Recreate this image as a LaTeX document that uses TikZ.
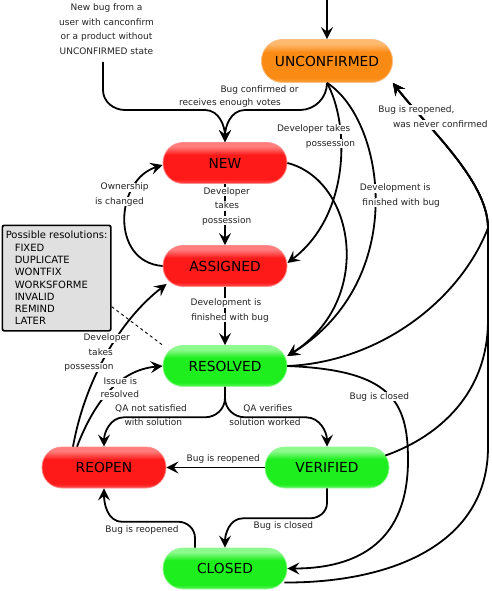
\documentclass[tikz,border=0pt]{standalone}
\usepackage{fontspec}
\setmainfont{DejaVu Sans}
\usetikzlibrary{arrows.meta}

\definecolor{rMain}{RGB}{255,26,26}
\definecolor{rHi}{RGB}{255,125,125}
\definecolor{rRim}{RGB}{255,85,85}
\definecolor{rBd}{RGB}{255,140,140}
\definecolor{oMain}{RGB}{249,138,20}
\definecolor{oHi}{RGB}{253,185,110}
\definecolor{oRim}{RGB}{251,165,70}
\definecolor{oBd}{RGB}{252,190,130}
\definecolor{gMain}{RGB}{30,238,30}
\definecolor{gHi}{RGB}{140,250,140}
\definecolor{gRim}{RGB}{95,245,95}
\definecolor{gBd}{RGB}{150,248,150}
\definecolor{boxgray}{RGB}{224,224,224}
\definecolor{lbltext}{RGB}{35,35,35}

\pgfdeclareverticalshading{glossR}{100bp}{color(0bp)=(rRim); color(25bp)=(rRim); color(30bp)=(rMain); color(60bp)=(rMain); color(70bp)=(rHi); color(75bp)=(rHi); color(100bp)=(rHi)}
\pgfdeclareverticalshading{glossO}{100bp}{color(0bp)=(oRim); color(25bp)=(oRim); color(30bp)=(oMain); color(60bp)=(oMain); color(70bp)=(oHi); color(75bp)=(oHi); color(100bp)=(oHi)}
\pgfdeclareverticalshading{glossG}{100bp}{color(0bp)=(gRim); color(25bp)=(gRim); color(30bp)=(gMain); color(60bp)=(gMain); color(70bp)=(gHi); color(75bp)=(gHi); color(100bp)=(gHi)}

\tikzset{
  state/.style={rectangle, rounded corners=20pt, minimum width=124pt, minimum height=41pt,
    inner sep=0pt, font=\fontsize{13.8}{15}\selectfont, text=black, line width=0.8pt},
  rstate/.style={state, shading=glossR, draw=rBd},
  gstate/.style={state, shading=glossG, draw=gBd},
  ostate/.style={state, shading=glossO, draw=oBd, minimum width=131pt, minimum height=43pt, rounded corners=21pt},
  arr/.style={-{Stealth[length=12pt,width=12pt,inset=4.5pt]}, line width=1.8pt},
  lbl/.style={font=\fontsize{9}{11}\selectfont, fill=white, inner sep=0.3pt,
    text height=6.6pt, text depth=1.9pt, text=lbltext},
  resbox/.style={draw, line width=1.7pt, fill=boxgray, rounded corners=2pt, inner sep=3pt,
    minimum width=108.5pt, minimum height=105.5pt, align=left,
    font=\fontsize{10}{12.3}\selectfont, text=black},
  dotline/.style={line width=0.9pt, dash pattern=on 3pt off 3pt}
}

\begin{document}
\begin{tikzpicture}[x=1pt,y=1pt]
\useasboundingbox (0,0) rectangle (491,-591);

% states
\node[ostate] (unc) at (327,-61) {UNCONFIRMED};
\node[rstate] (new) at (225,-163) {NEW};
\node[rstate] (asg) at (225,-266) {ASSIGNED};
\node[gstate] (res) at (225,-366) {RESOLVED};
\node[rstate] (reo) at (104,-467.5) {REOPEN};
\node[gstate] (ver) at (327,-467.5) {VERIFIED};
\node[gstate] (clo) at (225,-568.5) {CLOSED};

% resolutions box
\node[resbox, anchor=north west] (box) at (1.5,-224.5)
  {Possible resolutions:\\
   \hspace*{9pt}FIXED\\
   \hspace*{9pt}DUPLICATE\\
   \hspace*{9pt}WONTFIX\\
   \hspace*{9pt}WORKSFORME\\
   \hspace*{9pt}INVALID\\
   \hspace*{9pt}REMIND\\
   \hspace*{9pt}LATER};

% new bug text
\node[font=\fontsize{9}{14.6}\selectfont, align=center, text=lbltext, inner sep=0pt] (nb) at (106.5,-29)
  {New bug from a\\user with canconfirm\\or a product without\\UNCONFIRMED state};

\coordinate (topin) at (327,0);
\coordinate (nbs) at (103,-62);

% connectors
\draw[arr] (topin) -- (unc.north);
\draw[arr] (nbs) -- (103,-90) to[out=-90,in=180] (125,-110) -- (205,-110) to[out=0,in=90] (new.north);
\draw[arr] (unc.south) to[out=-90,in=0] (300,-110) -- (245,-110) to[out=180,in=90] (new.north);
\draw[arr] (unc.south) .. controls (350,-125) and (350,-215) .. ([yshift=3pt]asg.east);
\draw[arr] (unc.south) .. controls (385,-120) and (410,-280) .. ([yshift=10pt]res.east);
\draw[arr] (new.east) .. controls (355,-180) and (375,-300) .. ([yshift=10pt]res.east);
\draw[arr] (new.south) -- (asg.north);
\draw[arr] (asg.west) .. controls (110,-262) and (115,-180) .. ([yshift=-2pt]new.west);
\draw[arr] (asg.south) -- (res.north);
\draw[arr] ([xshift=-31pt]reo.north) .. controls (85,-380) and (120,-320) .. ([shift={(4pt,3pt)}]asg.south west);
\draw[arr] ([xshift=-27pt]reo.north) .. controls (95,-400) and (120,-370) .. (res.west);
\draw[dotline] ([yshift=25pt]box.south east) -- (res.north west);
\draw[arr] (res.south) -- (225,-398) to[out=-90,in=0] (205,-417.3) -- (124,-417.3) to[out=180,in=90] (reo.north);
\draw[arr] (res.south) -- (225,-398) to[out=-90,in=180] (245,-417.3) -- (306,-417.3) to[out=0,in=90] (ver.north);
\draw[arr] (ver.west) -- (reo.east);
\draw[arr] (ver.south) -- (327,-503) to[out=-90,in=0] (310,-518.3) -- (243,-518.3) to[out=180,in=90] (clo.north);
\draw[arr] ([xshift=-30pt]clo.north) -- (195,-538) to[out=90,in=0] (178,-521.7) -- (122,-521.7) to[out=180,in=-90] (reo.south);
\draw[arr] (res.east) .. controls (390,-370) and (408,-400) .. (408,-460) .. controls (408,-540) and (360,-568.5) .. (clo.east);
% reopened, never confirmed (three sources merge into one trunk)
\draw[arr] (res.east) .. controls (380,-362) and (460,-300) .. (488,-228) .. controls (488,-180) and (425,-125) .. (unc.south east);
\draw[arr] ([shift={(-4pt,12pt)}]ver.east) .. controls (430,-440) and (488,-400) .. (488,-320) -- (488,-228) .. controls (488,-180) and (425,-125) .. (unc.south east);
\draw[arr] ([shift={(-3pt,-14pt)}]clo.east) .. controls (390,-583) and (488,-545) .. (488,-447) -- (488,-228) .. controls (488,-180) and (425,-125) .. (unc.south east);

% labels
\node[lbl] (la1) at (259.5,-90) {Bug confirmed or};
\node[lbl] (la2) at (230,-102.7) {receives enough votes};
\node[lbl] (lb1) at (313.7,-129.3) {Developer takes};
\node[lbl] (lb2) at (330.5,-143.7) {possession};
\node[lbl] (lc1) at (416.5,-110) {Bug is reopened,};
\node[lbl] (lc2) at (440.3,-125) {was never confirmed};
\node[lbl] (ld1) at (395.3,-188.3) {Development is};
\node[lbl] (ld2) at (401.2,-202.7) {finished with bug};
\node[lbl] (le1) at (124.7,-187.3) {Ownership};
\node[lbl] (le2) at (119.5,-201.7) {is changed};
\node[lbl] (lf1) at (226.7,-191.7) {Developer};
\node[lbl] (lf2) at (227,-206) {takes};
\node[lbl] (lf3) at (226.7,-220.7) {possession};
\node[lbl] (lg1) at (226,-303) {Development is};
\node[lbl] (lg2) at (230,-317.7) {finished with bug};
\node[lbl] (lh1) at (106.7,-338.5) {Developer};
\node[lbl] (lh2) at (100.8,-353.5) {takes};
\node[lbl] (lh3) at (89,-367.5) {possession};
\node[lbl] (li1) at (120.3,-382.3) {Issue is};
\node[lbl] (li2) at (119.8,-395) {resolved};
\node[lbl] (lj1) at (151,-409) {QA not satisfied};
\node[lbl] (lj2) at (153.3,-423.3) {with solution};
\node[lbl] (lk1) at (267.8,-409) {QA verifies};
\node[lbl] (lk2) at (265,-423.3) {solution worked};
\node[lbl] (ll) at (223.3,-459) {Bug is reopened};
\node[lbl] (lm) at (283.3,-525.7) {Bug is closed};
\node[lbl] (ln) at (142,-530) {Bug is reopened};
\node[lbl] (lo) at (379.3,-396.7) {Bug is closed};
\end{tikzpicture}
\end{document}
